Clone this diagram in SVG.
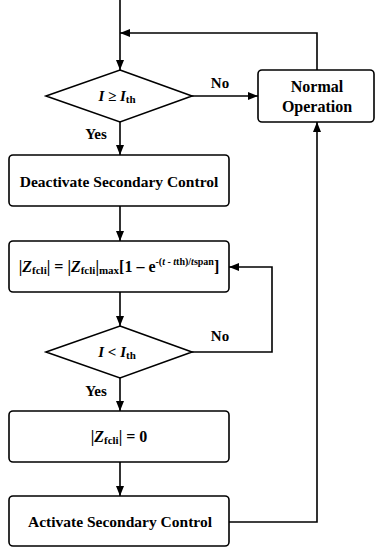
<svg xmlns="http://www.w3.org/2000/svg" width="375" height="548" viewBox="0 0 375 548">
<defs>
<marker id="ah" markerWidth="10" markerHeight="8" refX="10" refY="4" orient="auto" markerUnits="userSpaceOnUse">
<path d="M0,0 L10,4 L0,8 Z" fill="#000"/>
</marker>
<style>
.box{fill:#fff;stroke:#000;stroke-width:1.6}
.ln{fill:none;stroke:#000;stroke-width:1.6}
text{font-family:"Liberation Serif","Times New Roman",serif;font-weight:bold;fill:#000}
.t{font-size:16px;text-anchor:middle}
.ts{font-size:15.5px;text-anchor:middle}
.lb{font-size:15px;text-anchor:middle}
.it{font-style:italic}
.sub{font-size:11px}
.sup{font-size:10px}
</style>
</defs>
<g id="connectors">
<path class="ln" d="M120,0 L120,70" marker-end="url(#ah)"/>
<path class="ln" d="M317,70 L317,33 L120,33" marker-end="url(#ah)"/>
<path class="ln" d="M192,96 L258,96" marker-end="url(#ah)"/>
<path class="ln" d="M120,122 L120,155" marker-end="url(#ah)"/>
<path class="ln" d="M120,206 L120,241" marker-end="url(#ah)"/>
<path class="ln" d="M120,292 L120,326" marker-end="url(#ah)"/>
<path class="ln" d="M192,352 L272,352 L272,267 L229,267" marker-end="url(#ah)"/>
<path class="ln" d="M120,378 L120,411" marker-end="url(#ah)"/>
<path class="ln" d="M120,462 L120,496" marker-end="url(#ah)"/>
<path class="ln" d="M229,522 L317,522 L317,122" marker-end="url(#ah)"/>
<text class="lb" x="220" y="88">No</text>
<text class="lb" x="96" y="139">Yes</text>
<text class="lb" x="220" y="341">No</text>
<text class="lb" x="96" y="396">Yes</text>
</g>
<g id="decision1">
<polygon class="box" points="120,70 192,96 120,122 46,96"/>
<text class="t" x="117" y="101" style="font-size:15px"><tspan class="it">I</tspan> ≥ <tspan class="it">I</tspan><tspan class="sub" dy="2">th</tspan></text>
</g>
<g id="normal">
<rect class="box" x="258" y="70" width="116" height="52" rx="4"/>
<text class="t" x="317" y="92">Normal</text>
<text class="t" x="317" y="112">Operation</text>
</g>
<g id="deactivate">
<rect class="box" x="9" y="155" width="220" height="51" rx="4"/>
<text class="ts" x="119" y="187">Deactivate Secondary Control</text>
</g>
<g id="formula">
<rect class="box" x="9" y="241" width="220" height="51" rx="4"/>
<text class="t" x="119" y="272">|<tspan class="it">Z</tspan><tspan class="sub" dy="2">fcli</tspan><tspan dy="-2">| = |</tspan><tspan class="it">Z</tspan><tspan class="sub" dy="2">fcli</tspan><tspan dy="-2">|</tspan><tspan class="sub" dy="2">max</tspan><tspan dy="-2">[1 – e</tspan><tspan class="sup" dy="-7">-(</tspan><tspan class="sup it">t</tspan><tspan class="sup"> - </tspan><tspan class="sup it">t</tspan><tspan class="sup">th)/</tspan><tspan class="sup it">t</tspan><tspan class="sup">span</tspan><tspan dy="7">]</tspan></text>
</g>
<g id="decision2">
<polygon class="box" points="120,326 192,352 120,378 46,352"/>
<text class="t" x="117" y="357" style="font-size:15px"><tspan class="it">I</tspan> &lt; <tspan class="it">I</tspan><tspan class="sub" dy="2">th</tspan></text>
</g>
<g id="zero">
<rect class="box" x="9" y="411" width="220" height="51" rx="4"/>
<text class="t" x="119" y="442">|<tspan class="it">Z</tspan><tspan class="sub" dy="2">fcli</tspan><tspan dy="-2">| = 0</tspan></text>
</g>
<g id="activate">
<rect class="box" x="9" y="496" width="220" height="50" rx="4"/>
<text class="ts" x="120" y="527">Activate Secondary Control</text>
</g>
</svg>
